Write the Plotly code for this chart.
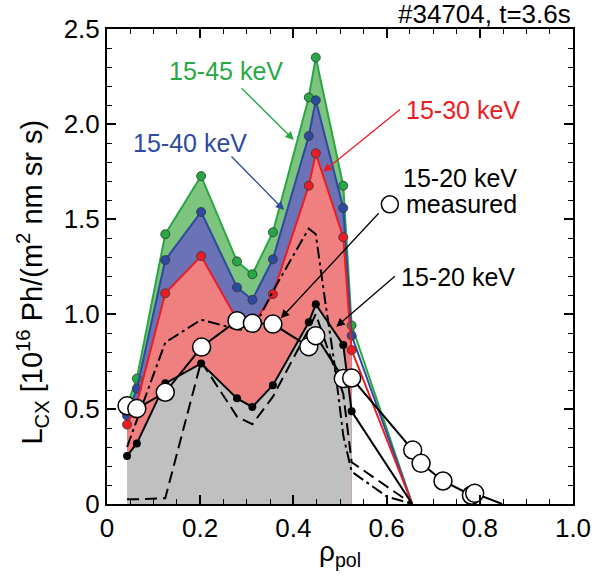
import plotly.graph_objects as go

# ---------------- data ----------------
rho = [0.043, 0.064, 0.125, 0.202, 0.279, 0.312, 0.356, 0.433, 0.448, 0.507, 0.525, 0.655]
L_15_45 = [0.52, 0.66, 1.42, 1.726, 1.277, 1.209, 1.43, 2.14, 2.35, 1.675, 0.94, 0.0]
L_15_40 = [0.465, 0.607, 1.284, 1.537, 1.14, 1.075, 1.288, 1.937, 2.125, 1.558, 0.886, 0.0]
L_15_30 = [0.418, 0.53, 1.109, 1.305, 0.97, 0.94, 1.105, 1.675, 1.846, 1.404, 0.81, 0.0]
L_15_20 = [0.253, 0.319, 0.635, 0.74, 0.556, 0.511, 0.625, 0.956, 1.051, 0.837, 0.488, 0.0]

dash_y = [0.025, 0.025, 0.03, 0.75, 0.46, 0.42, 0.565, 0.92, 1.0, 0.58, 0.22, 0.0]

dd_x = [0.043, 0.064, 0.125, 0.202, 0.279, 0.312, 0.356, 0.433, 0.448, 0.468, 0.488, 0.507, 0.525, 0.6, 0.655]
dd_y = [0.30, 0.44, 0.85, 0.97, 0.92, 0.91, 1.12, 1.45, 1.42, 1.07, 0.74, 0.36, 0.17, 0.04, 0.0]

meas_x = [0.043, 0.064, 0.125, 0.203, 0.279, 0.312, 0.356, 0.433, 0.448, 0.507, 0.525,
          0.656, 0.674, 0.721, 0.782, 0.789]
meas_y = [0.517, 0.502, 0.588, 0.826, 0.965, 0.951, 0.947, 0.828, 0.886, 0.66, 0.663,
          0.284, 0.214, 0.121, 0.046, 0.056]
meas_end_x = 0.848
meas_end_y = 0.0

n_fill = 11  # fills stop at rho = 0.525

x_ticks = [0, 0.2, 0.4, 0.6, 0.8, 1.0]
x_ticktext = ["0", "0.2", "0.4", "0.6", "0.8", "1.0"]
y_ticks = [0, 0.5, 1.0, 1.5, 2.0, 2.5]
y_ticktext = ["0", "0.5", "1.0", "1.5", "2.0", "2.5"]

# ---------------- styles ----------------
FONT = "Liberation Sans, Arial, Helvetica, sans-serif"
green_line, green_fill = "#27a844", "#7dc47f"
blue_line, blue_fill = "#2d4a9f", "#6b72b6"
red_line, red_fill = "#ec1c24", "#f07f80"
gray_fill = "#c0c0c0"

fig = go.Figure()

# fills (layered)
for yy, fc in [(L_15_45, green_fill), (L_15_40, blue_fill), (L_15_30, red_fill), (L_15_20, gray_fill)]:
    fig.add_trace(go.Scatter(x=rho[:n_fill], y=yy[:n_fill], mode="lines", fill="tozeroy",
                             fillcolor=fc, line=dict(width=0, color=fc), hoverinfo="skip"))

# coloured lines with markers
for yy, lc in [(L_15_45, green_line), (L_15_40, blue_line), (L_15_30, red_line)]:
    fig.add_trace(go.Scatter(x=rho, y=yy, mode="lines", line=dict(color=lc, width=2)))
    fig.add_trace(go.Scatter(x=rho[:n_fill], y=yy[:n_fill], mode="markers",
                             marker=dict(size=9, color=lc, line=dict(color="#333333", width=0.8))))

# dashed & dash-dot
fig.add_trace(go.Scatter(x=rho, y=dash_y, mode="lines",
                         line=dict(color="black", width=2, dash="12px,6px")))
fig.add_trace(go.Scatter(x=dd_x, y=dd_y, mode="lines",
                         line=dict(color="black", width=2, dash="12px,4px,3px,4px")))

# black solid 15-20 keV
fig.add_trace(go.Scatter(x=rho, y=L_15_20, mode="lines", line=dict(color="black", width=2)))
fig.add_trace(go.Scatter(x=rho[:n_fill], y=L_15_20[:n_fill], mode="markers",
                         marker=dict(size=8, color="black")))

# measured
fig.add_trace(go.Scatter(x=meas_x + [meas_end_x], y=meas_y + [meas_end_y], mode="lines",
                         line=dict(color="black", width=2)))
fig.add_trace(go.Scatter(x=meas_x, y=meas_y, mode="markers",
                         marker=dict(size=18, color="white", line=dict(color="black", width=1.5))))

# legend symbol circle next to "measured"
fig.add_trace(go.Scatter(x=[0.607], y=[1.577], mode="markers", cliponaxis=False,
                         marker=dict(size=17, color="white", line=dict(color="black", width=1.5))))

# ---------------- annotations ----------------
ann = []
arrows = [
    (0.401, 1.916, 0.2857, 2.196, green_line),
    (0.380, 1.547, 0.264, 1.837, blue_line),
    (0.464, 1.749, 0.632, 2.083, red_line),
    (0.373, 0.977, 0.586, 1.538, "black"),
    (0.492, 0.933, 0.621, 1.205, "black"),
]
for hx, hy, tx, ty, c in arrows:
    ann.append(dict(x=hx, y=hy, ax=tx, ay=ty, xref="x", yref="y", axref="x", ayref="y",
                    text="", showarrow=True, arrowhead=2, arrowsize=1.3, arrowwidth=1.3,
                    arrowcolor=c))

texts = [
    ("15-45 keV", 0.256, 2.279, green_line),
    ("15-40 keV", 0.178, 1.90, blue_line),
    ("15-30 keV", 0.765, 2.074, red_line),
    ("15-20 keV", 0.757, 1.715, "black"),
    ("measured", 0.761, 1.577, "black"),
    ("15-20 keV", 0.753, 1.195, "black"),
]
for t, x, y, c in texts:
    ann.append(dict(x=x, y=y, xref="x", yref="y", text=t, showarrow=False,
                    font=dict(family=FONT, size=25, color=c), xanchor="center", yanchor="middle"))

ann.append(dict(x=1.0, y=1.032, xref="paper", yref="paper", text="#34704, t=3.6s",
                showarrow=False, xanchor="right", yanchor="middle",
                font=dict(family=FONT, size=26, color="black")))
ann.append(dict(x=0.499, y=-0.105, xref="paper", yref="paper", text="ρ<sub>pol</sub>",
                showarrow=False, xanchor="center", yanchor="middle",
                font=dict(family=FONT, size=28, color="black")))
ann.append(dict(x=-0.16, y=0.467, xref="paper", yref="paper", textangle=-90,
                text="L<sub>CX</sub> [10<sup>16</sup> Ph/(m<sup>2</sup> nm sr s)",
                showarrow=False, xanchor="center", yanchor="middle",
                font=dict(family=FONT, size=29, color="black")))

axis_common = dict(showgrid=False, zeroline=False, showline=True, linecolor="black", linewidth=2,
                   mirror="allticks", ticks="inside", ticklen=9, tickwidth=1.6, tickcolor="black",
                   tickfont=dict(family=FONT, size=26, color="black"))

fig.update_layout(
    width=603, height=583,
    margin=dict(l=107, r=19, t=29, b=79),
    plot_bgcolor="white", paper_bgcolor="white",
    showlegend=False,
    annotations=ann,
    xaxis=dict(range=[0, 1], tickvals=x_ticks, ticktext=x_ticktext,
               minor=dict(dtick=0.05, tick0=0, ticks="inside", ticklen=5, tickwidth=1.3, tickcolor="black"),
               **axis_common),
    yaxis=dict(range=[0, 2.5], tickvals=y_ticks, ticktext=y_ticktext,
               minor=dict(dtick=0.1, tick0=0, ticks="inside", ticklen=5, tickwidth=1.3, tickcolor="black"),
               **axis_common),
)

fig.write_html("out.html")
